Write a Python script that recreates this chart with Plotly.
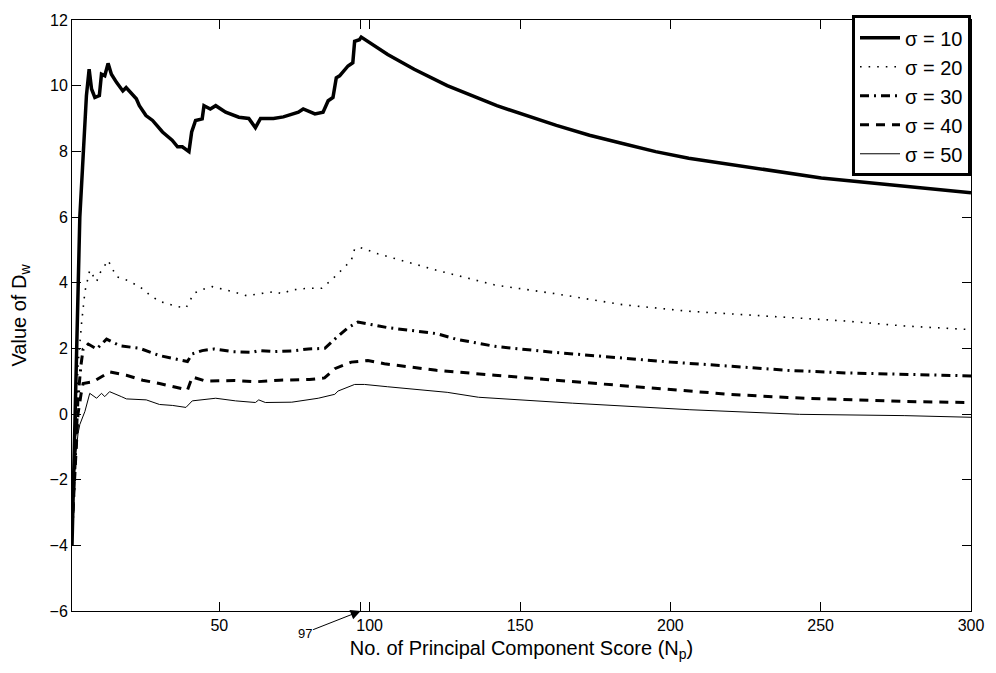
import plotly.graph_objects as go

# sigma = 10
x10 = [1, 2, 3, 3.6, 4.5, 5.8, 6.7, 7.5, 8.6, 10.1, 10.8, 11.9, 13, 14.1, 15.8, 17.9, 19, 22.4, 23.4, 25.6,
       27.8, 31.1, 34.3, 36.1, 37.7, 39.9, 40.8, 42.1, 44.3, 44.9, 47, 48.8, 52.1, 56.5, 59.8, 62, 63.7, 68,
       71.3, 73, 76.3, 77.9, 81.8, 84.5, 86.2, 87.8, 88.9, 90, 92.8, 94.4, 95, 96.6, 97.2, 106, 114.8, 125.8,
       142.3, 162.1, 173.1, 184.1, 195.1, 206.1, 217.1, 228.1, 239.1, 250.2, 272.1, 300]
y10 = [-4.0, 0.0, 4.5, 6.0, 7.5, 9.7, 10.5, 9.9, 9.64, 9.7, 10.35, 10.3, 10.68, 10.35, 10.1, 9.84, 9.94, 9.6,
       9.39, 9.09, 8.94, 8.59, 8.34, 8.14, 8.14, 7.99, 8.59, 8.94, 8.99, 9.39, 9.29, 9.39, 9.19, 9.04, 9.0,
       8.72, 9.0, 9.0, 9.05, 9.1, 9.19, 9.29, 9.14, 9.19, 9.54, 9.64, 10.24, 10.3, 10.6, 10.7, 11.35, 11.4,
       11.48, 10.95, 10.5, 10.0, 9.39, 8.79, 8.49, 8.24, 7.99, 7.79, 7.64, 7.49, 7.34, 7.19, 6.99, 6.74]

# sigma = 20
x20 = [1, 2, 3, 4.2, 5.3, 6.9, 9.2, 10.2, 13, 15.8, 19.1, 23.5, 26.8, 30.1, 35.6, 38.9, 40.5, 41.6, 45.5,
       47.6, 54.3, 59.2, 63.1, 68.6, 70.8, 74.1, 79.6, 84, 87.3, 90.6, 93.9, 95, 96.6, 102.7, 122.2, 141.6,
       162, 184, 206, 220, 239, 250, 258.5, 272, 278, 300]
y20 = [-3.8, -1.0, 1.5, 2.78, 3.73, 4.38, 4.03, 4.28, 4.68, 4.18, 4.08, 3.88, 3.63, 3.43, 3.28, 3.23, 3.48,
       3.68, 3.83, 3.88, 3.73, 3.6, 3.66, 3.73, 3.66, 3.78, 3.83, 3.83, 4.08, 4.38, 4.68, 5.03, 5.08, 4.88,
       4.38, 3.93, 3.66, 3.33, 3.13, 3.05, 2.93, 2.88, 2.83, 2.73, 2.68, 2.57]

# sigma = 30
x30 = [1, 2, 3, 4, 4.7, 6.4, 9.2, 12.5, 16.9, 23.5, 30.1, 37.7, 39.4, 41, 44.3, 48.2, 54.3, 60.9, 63.1, 68.6,
       74.1, 79.6, 85.1, 88.4, 92.8, 96.1, 100.5, 106, 122.2, 128.7, 141.6, 161.1, 180.6, 200.1, 219.6, 239,
       258.5, 278, 300]
y30 = [-3.6, -1.5, 0.5, 1.5, 1.98, 2.13, 1.98, 2.28, 2.08, 2.0, 1.78, 1.63, 1.6, 1.83, 1.93, 1.98, 1.9, 1.88,
       1.93, 1.9, 1.92, 1.98, 2.0, 2.28, 2.63, 2.8, 2.73, 2.63, 2.45, 2.28, 2.06, 1.88, 1.73, 1.58, 1.46, 1.33,
       1.25, 1.2, 1.16]

# sigma = 40
x40 = [1, 2, 3, 4, 4.7, 8, 13.5, 19.1, 24.5, 30.1, 36.7, 39.4, 41, 45.5, 55, 62, 70, 80, 85, 88.4, 93.9, 99.4,
       104.9, 122.2, 141.6, 161.1, 180.6, 200.1, 219.6, 239, 258.5, 278, 300]
y40 = [-3.5, -1.5, 0.0, 0.6, 0.93, 0.98, 1.28, 1.18, 1.03, 0.93, 0.78, 0.73, 1.13, 1.0, 1.02, 0.98, 1.03, 1.05,
       1.1, 1.38, 1.58, 1.63, 1.53, 1.33, 1.18, 1.03, 0.88, 0.73, 0.6, 0.5, 0.43, 0.38, 0.35]

# sigma = 50
x50 = [1, 2, 3, 3.6, 5.3, 6.9, 9.2, 10.8, 11.9, 13.5, 17.4, 19.1, 25.7, 30.1, 34.5, 38.9, 41, 48.8, 55.4, 62,
       63.1, 65.3, 74.1, 82.9, 88.4, 89.5, 95, 98.3, 106, 125.8, 136.2, 167.4, 206.5, 243, 278, 300]
y50 = [-3.4, -1.5, -0.6, -0.32, 0.08, 0.63, 0.48, 0.63, 0.53, 0.68, 0.53, 0.46, 0.43, 0.29, 0.26, 0.2, 0.4,
       0.48, 0.4, 0.35, 0.43, 0.35, 0.36, 0.48, 0.6, 0.7, 0.9, 0.9, 0.83, 0.66, 0.51, 0.33, 0.13, -0.01,
       -0.05, -0.1]

series_names = ["σ = 10", "σ = 20", "σ = 30", "σ = 40", "σ = 50"]
x_tickvals = [50, 97, 100, 150, 200, 250, 300]
x_ticktext = ["50", "", "100", "150", "200", "250", "300"]
y_tickvals = [-6, -4, -2, 0, 2, 4, 6, 8, 10, 12]
marked_np = 97

FONT = "Liberation Sans, Arial, Helvetica, sans-serif"

styles = [
    dict(width=3.5, dash="solid"),
    dict(width=1.6, dash="1.6px,7px"),
    dict(width=3, dash="9px,5px,2px,5px"),
    dict(width=3, dash="9px,7px"),
    dict(width=1, dash="solid"),
]

fig = go.Figure()
for name, xs, ys, st in zip(series_names, [x10, x20, x30, x40, x50], [y10, y20, y30, y40, y50], styles):
    fig.add_trace(go.Scatter(x=xs, y=ys, mode="lines", name=name,
                             line=dict(color="black", width=st["width"], dash=st["dash"])))

fig.update_layout(
    width=996, height=673,
    margin=dict(l=72, r=18, t=13, b=62),
    paper_bgcolor="white", plot_bgcolor="white",
    font=dict(family=FONT, color="black", size=16),
    showlegend=True,
    legend=dict(x=1.0, y=1.008, xanchor="right", yanchor="top",
                bgcolor="white", bordercolor="black", borderwidth=3,
                font=dict(size=20, family=FONT), tracegroupgap=0, itemwidth=40),
)
fig.update_xaxes(range=[1, 300], tickvals=x_tickvals, ticktext=x_ticktext,
                 ticks="inside", ticklen=9, tickcolor="black", tickwidth=1,
                 showline=True, linecolor="black", linewidth=1, mirror="ticks",
                 showgrid=False, zeroline=False,
                 tickfont=dict(size=16),
                 title=dict(text="No. of Principal Component Score (N<sub>p</sub>)",
                            font=dict(size=20), standoff=7))
fig.update_yaxes(range=[-6, 12], tickvals=y_tickvals,
                 ticks="inside", ticklen=9, tickcolor="black", tickwidth=1,
                 showline=True, linecolor="black", linewidth=1, mirror="ticks",
                 showgrid=False, zeroline=False,
                 tickfont=dict(size=16),
                 title=dict(text="Value of D<sub>w</sub>", font=dict(size=20), standoff=17))

fig.add_annotation(x=marked_np, y=-6, xref="x", yref="y", text=str(marked_np),
                   showarrow=True, arrowhead=2, arrowsize=2, arrowwidth=1, arrowcolor="black",
                   ax=-56, ay=22, font=dict(size=13, family=FONT), standoff=0)

fig.write_html("out.html")
